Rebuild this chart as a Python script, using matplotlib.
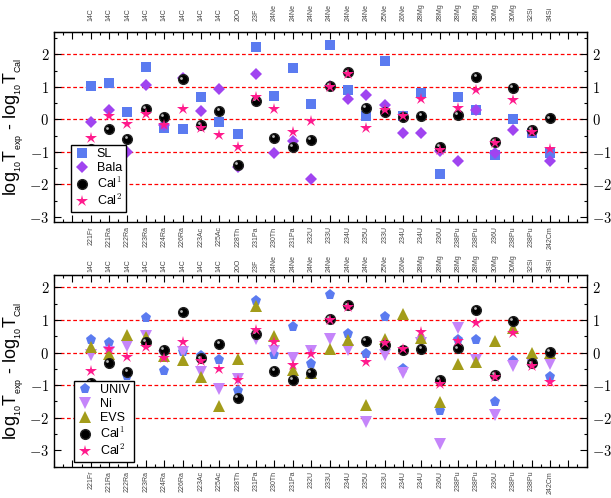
import matplotlib
matplotlib.use('Agg')
import matplotlib.pyplot as plt
from matplotlib.ticker import MultipleLocator, FixedLocator
from matplotlib.transforms import offset_copy

parents = ['221Fr', '221Ra', '222Ra', '223Ra', '224Ra', '226Ra', '223Ac', '225Ac',
           '228Th', '231Pa', '230Th', '231Pa', '232U', '233U', '234U', '235U',
           '233U', '234U', '234U', '236U', '238Pu', '238Pu', '236U', '238Pu', '238Pu',
           '242Cm']
clusters = ['14C', '14C', '14C', '14C', '14C', '14C', '14C', '14C', '20O', '23F',
            '24Ne', '24Ne', '24Ne', '24Ne', '24Ne', '24Ne', '25Ne', '26Ne',
            '28Mg', '28Mg', '28Mg', '28Mg', '30Mg', '30Mg', '32Si', '34Si']

sl = [1.03, 1.13, 0.24, 1.62, -0.26, -0.31, 0.68, -0.08, -0.45, 2.24, 0.73, 1.59, 0.47,
      2.29, 0.90, 0.10, 1.80, 0.11, 0.80, -1.67, 0.70, 0.30, -1.10, 0.01, -0.41, -1.05]
bala = [-0.07, 0.29, -1.00, 1.06, -0.16, 1.27, 0.27, 0.93, -1.46, 1.39, -1.02, -0.67, -1.85,
        1.03, 0.62, 0.75, 0.44, -0.43, -0.41, -0.97, -1.28, 0.29, -1.05, -0.33, -0.37, -1.29]
cal1 = [-0.92, -0.31, -0.60, 0.33, 0.08, 1.23, -0.18, 0.26, -1.40, 0.57, -0.57, -0.85, -0.62,
        1.03, 1.45, 0.36, 0.24, 0.08, 0.11, -0.85, 0.13, 1.30, -0.69, 0.96, -0.33, 0.03]
cal2 = [-0.57, 0.10, -0.15, 0.18, -0.18, 0.31, -0.26, -0.49, -0.85, 0.70, 0.31, -0.38, -0.04,
        1.00, 1.39, -0.28, 0.29, 0.10, 0.63, -0.95, 0.34, 0.90, -0.74, 0.60, -0.40, -0.90]
univ = [0.38, 0.30, -0.72, 1.06, -0.56, 0.02, -0.10, -0.24, -1.18, 1.57, -0.08, 0.77, -0.36,
        1.76, 0.58, -0.05, 1.09, -0.51, 0.40, -1.80, 0.38, 0.38, -1.52, -0.26, -0.27, -0.75]
ni = [-0.08, 0.02, 0.20, 0.51, -0.11, 0.02, -0.60, -1.13, -0.82, 0.43, 0.04, -0.18, 0.04,
      0.42, 0.07, -2.13, -0.08, -0.64, 0.30, -2.79, 0.76, -0.24, -1.90, -0.41, -0.31, -0.34]
evs = [0.17, -0.03, 0.53, 0.48, -0.11, -0.24, -0.75, -1.65, -0.21, 1.43, 0.50, -0.54, -0.62,
       0.12, 0.38, -1.62, 0.43, 1.17, 0.45, -1.52, -0.34, -0.29, 0.36, 0.74, -0.01, 0.00]

x = list(range(1, len(parents) + 1))

plt.rcParams['font.family'] = ['Liberation Sans', 'DejaVu Sans']
plt.rcParams['mathtext.fontset'] = 'cm'

fig = plt.figure(figsize=(6.11, 4.98), dpi=100)
ax1 = fig.add_axes([0.0884, 0.5536, 0.8718, 0.3827])
ax2 = fig.add_axes([0.0884, 0.0629, 0.8718, 0.3849])

ylab = (r'$\mathregular{log{}_{{}_{10}}T{}_{{}_{exp}}}$ - '
        r'$\mathregular{log{}_{{}_{10}}T{}_{{}_{Cal}}}$')


def style(ax, ylim, toppad):
    ax.set_xlim(-1, 28)
    ax.set_ylim(*ylim)
    for y in [-2, -1, 0, 1, 2]:
        ax.axhline(y, color='red', ls=(0, (3, 2)), lw=0.9, zorder=1)
    ax.xaxis.set_minor_locator(MultipleLocator(0.5))
    ax.yaxis.set_major_locator(FixedLocator([-3, -2, -1, 0, 1, 2]))
    ax.yaxis.set_minor_locator(MultipleLocator(0.5))
    ax.set_yticklabels([r'$-3$', r'$-2$', r'$-1$', r'$0$', r'$1$', r'$2$'])
    ax.tick_params(which='both', direction='in', top=True, right=True,
                   labelright=True, width=0.8)
    ax.tick_params(which='major', length=5)
    ax.tick_params(which='minor', length=2.5)
    ax.tick_params(axis='y', labelsize=10.5, pad=3.5)
    ax.tick_params(axis='x', which='major', labelsize=5, labelcolor='#444444',
                   labelrotation=90, pad=3)
    for s in ax.spines.values():
        s.set_linewidth(1.0)
    labs_b = dict(zip(x, parents))
    ticks = list(range(-1, 29))
    ax.set_xticks(ticks)
    ax.set_xticklabels([labs_b.get(t, '') for t in ticks])
    ax.set_xlim(-1, 28)
    sec = ax.secondary_xaxis('top')
    sec.set_xticks(x)
    sec.set_xticklabels(clusters)
    sec.tick_params(axis='x', length=0, labelsize=5, labelcolor='#444444',
                    labelrotation=90, pad=toppad)
    ax.set_ylabel(ylab, fontsize=13, labelpad=2)


def sphere(ax, xs, ys):
    ax.plot(xs, ys, 'o', color='black', ms=7, mec='#222222', zorder=4,
            label='Cal$^1$')
    hl = offset_copy(ax.transData, fig=fig, x=-1.3, y=1.3, units='points')
    ax.plot(xs, ys, 'o', color='#cfcfcf', ms=2.0, mew=0, alpha=0.9,
            transform=hl, zorder=4.5)


style(ax1, (-3.17, 2.7), 8)
ax1.plot(x, sl, 's', color='#5b7bf0', ms=6.5, mew=0, zorder=3, label='SL')
ax1.plot(x, bala, 'D', color='#a044f0', ms=5.8, mew=0, zorder=3, label='Bala')
sphere(ax1, x, cal1)
ax1.plot(x, cal2, '*', color='#ff1a8c', ms=9, mew=0, zorder=5, label='Cal$^2$')
leg1 = ax1.legend(loc='lower left', bbox_to_anchor=(0.031, 0.054), borderaxespad=0,
                  fontsize=9, labelspacing=0.15, handlelength=1.2, handletextpad=0.6,
                  borderpad=0.3, fancybox=False, framealpha=1, edgecolor='black')
leg1.get_frame().set_linewidth(1.0)

style(ax2, (-3.5, 2.38), 2)
ax2.plot(x, univ, 'p', color='#5b7bf0', ms=8, mew=0, zorder=3, label='UNIV')
ax2.plot(x, ni, 'v', color='#c585fa', ms=8, mew=0, zorder=3, label='Ni')
ax2.plot(x, evs, '^', color='#a39c1a', ms=8, mew=0, zorder=3, label='EVS')
sphere(ax2, x, cal1)
ax2.plot(x, cal2, '*', color='#ff1a8c', ms=9, mew=0, zorder=5, label='Cal$^2$')
leg2 = ax2.legend(loc='lower left', bbox_to_anchor=(0.0375, 0.026), borderaxespad=0,
                  fontsize=9, labelspacing=0.15, handlelength=1.2, handletextpad=0.6,
                  borderpad=0.3, fancybox=False, framealpha=1, edgecolor='black')
leg2.get_frame().set_linewidth(1.0)

fig.savefig('out.png', dpi=100)
